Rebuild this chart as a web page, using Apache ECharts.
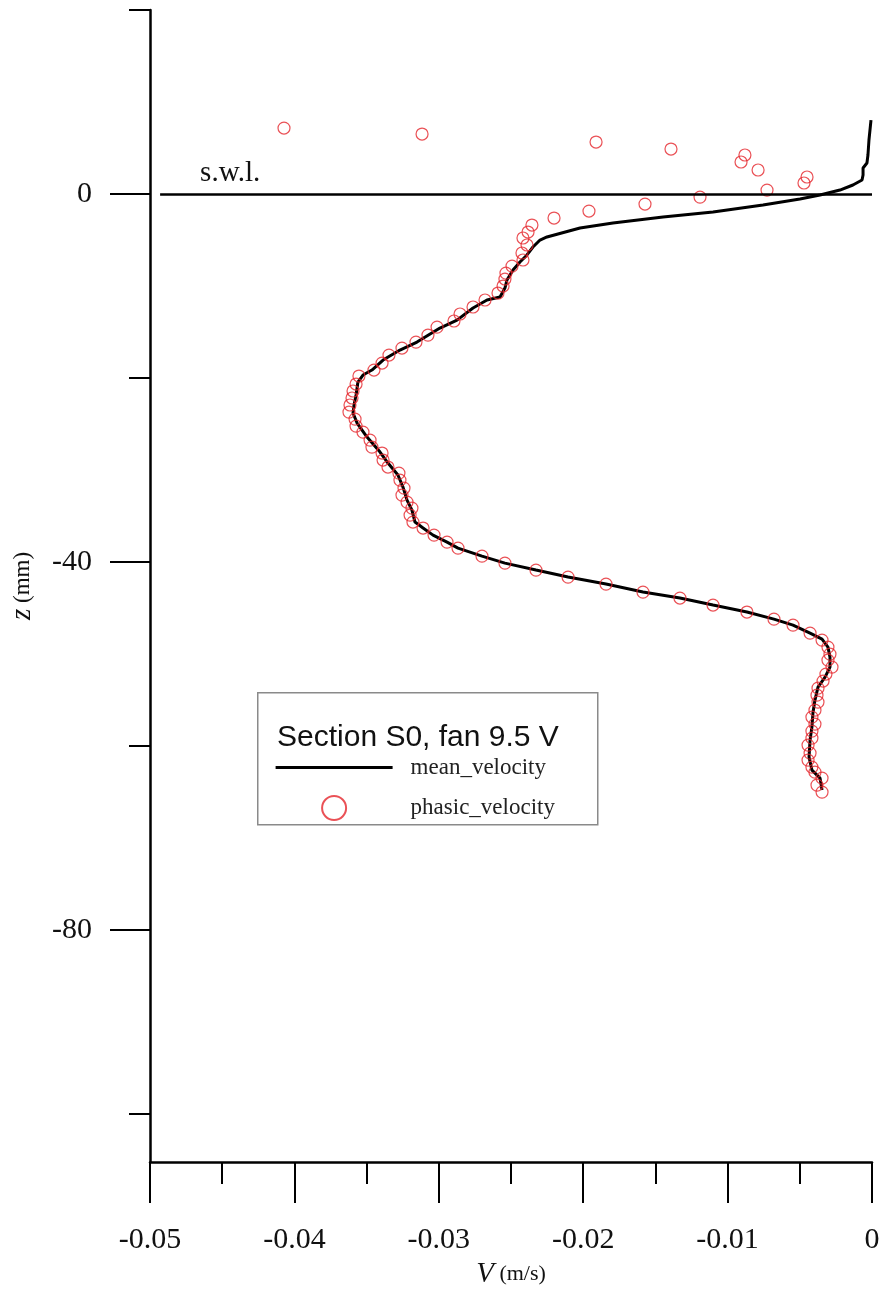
<!DOCTYPE html>
<html><head><meta charset="utf-8">
<script src="https://cdn.jsdelivr.net/npm/echarts@6/dist/echarts.min.js"></script>
<style>html,body{margin:0;padding:0;background:#fff}#c{width:885px;height:1293px}</style>
</head><body><div id="c"></div>
<script>
// mean velocity profile: V (m/s), z (mm)
const meanV = [-0.00007,-0.00021,-0.00028,-0.00035,-0.00062,-0.00062,-0.00069,-0.00132,-0.00222,-0.00360,-0.00499,-0.00755,-0.01101,-0.01447,-0.01794,-0.02022,-0.02251,-0.02299,-0.02348,-0.02396,-0.02438,-0.02486,-0.02528,-0.02542,-0.02576,-0.02666,-0.02763,-0.02874,-0.02992,-0.03151,-0.03269,-0.03386,-0.03463,-0.03525,-0.03560,-0.03573,-0.03587,-0.03594,-0.03566,-0.03497,-0.03407,-0.03352,-0.03283,-0.03248,-0.03220,-0.03186,-0.03165,-0.03109,-0.03040,-0.02943,-0.02867,-0.02701,-0.02542,-0.02327,-0.02105,-0.01842,-0.01586,-0.01330,-0.01101,-0.00866,-0.00679,-0.00547,-0.00429,-0.00346,-0.00305,-0.00291,-0.00291,-0.00325,-0.00374,-0.00395,-0.00409,-0.00416,-0.00429,-0.00436,-0.00416,-0.00360,-0.00346];
const meanZ = [8.04,5.87,4.24,3.37,2.83,2.07,1.52,0.98,0.43,-0.11,-0.54,-1.20,-1.96,-2.50,-3.15,-3.70,-4.67,-5.00,-5.76,-6.74,-7.39,-8.26,-9.35,-10.22,-11.20,-11.52,-12.39,-13.70,-14.57,-16.09,-16.96,-18.04,-19.13,-19.67,-20.43,-21.85,-22.93,-23.80,-24.89,-26.41,-28.04,-29.24,-30.54,-31.85,-33.26,-34.35,-35.65,-36.30,-37.07,-37.83,-38.48,-39.35,-40.11,-40.87,-41.63,-42.39,-43.26,-43.91,-44.67,-45.43,-46.20,-46.85,-47.72,-48.37,-49.24,-50.33,-51.41,-52.50,-53.59,-55.00,-56.41,-57.93,-59.35,-61.20,-62.61,-63.48,-64.78];
// phasic velocity samples
const phasicV = [-0.04072,-0.03116,-0.01911,-0.01392,-0.00880,-0.00907,-0.00789,-0.00450,-0.00471,-0.00727,-0.01191,-0.01572,-0.01960,-0.02202,-0.02355,-0.02382,-0.02417,-0.02389,-0.02424,-0.02417,-0.02493,-0.02535,-0.02542,-0.02555,-0.02590,-0.02680,-0.02763,-0.02853,-0.02895,-0.03012,-0.03075,-0.03158,-0.03255,-0.03345,-0.03393,-0.03449,-0.03553,-0.03573,-0.03594,-0.03601,-0.03615,-0.03622,-0.03580,-0.03573,-0.03525,-0.03476,-0.03463,-0.03393,-0.03386,-0.03352,-0.03276,-0.03269,-0.03241,-0.03255,-0.03220,-0.03186,-0.03199,-0.03179,-0.03109,-0.03033,-0.02943,-0.02867,-0.02701,-0.02542,-0.02327,-0.02105,-0.01842,-0.01586,-0.01330,-0.01101,-0.00866,-0.00679,-0.00547,-0.00429,-0.00346,-0.00305,-0.00291,-0.00305,-0.00277,-0.00319,-0.00339,-0.00374,-0.00381,-0.00374,-0.00395,-0.00416,-0.00395,-0.00416,-0.00416,-0.00443,-0.00429,-0.00443,-0.00416,-0.00395,-0.00346,-0.00381,-0.00346];
const phasicZ = [7.17,6.52,5.65,4.89,4.24,3.48,2.61,1.85,1.20,0.43,-0.33,-1.09,-1.85,-2.61,-3.37,-4.13,-4.78,-5.54,-6.41,-7.17,-7.83,-8.59,-9.24,-10.00,-10.76,-11.52,-12.28,-13.04,-13.80,-14.46,-15.33,-16.09,-16.74,-17.50,-18.37,-19.13,-19.78,-20.65,-21.41,-22.17,-22.93,-23.70,-24.46,-25.22,-25.87,-26.74,-27.50,-28.15,-28.91,-29.67,-30.33,-31.09,-31.96,-32.72,-33.48,-34.13,-34.89,-35.65,-36.30,-37.07,-37.83,-38.48,-39.35,-40.11,-40.87,-41.63,-42.39,-43.26,-43.91,-44.67,-45.43,-46.20,-46.85,-47.72,-48.48,-49.24,-50.00,-50.65,-51.41,-52.17,-52.93,-53.70,-54.46,-55.22,-56.09,-56.85,-57.61,-58.37,-59.13,-59.89,-60.76,-61.52,-62.28,-62.83,-63.48,-64.24,-65.00];
const yMajorTicks = [0, -40, -80];
const yMinorTicks = [20, -20, -60, -100];
const legendTitle = 'Section S0, fan 9.5 V';

const serif = 'Liberation Serif';
const chart = echarts.init(document.getElementById('c'), null, {renderer: 'canvas'});
const meanData = meanV.map((v, i) => [v, meanZ[i]]);
const phasicData = phasicV.map((v, i) => [v, phasicZ[i]]);

chart.setOption({
  backgroundColor: '#ffffff',
  animation: false,
  grid: {left: 150, right: 13, top: 10, bottom: 131, containLabel: false, outerBoundsMode: 'none'},
  xAxis: {
    type: 'value', min: -0.05, max: 0, interval: 0.01,
    axisLine: {onZero: false, lineStyle: {color: '#000', width: 2.5}},
    axisTick: {length: 41, lineStyle: {color: '#000', width: 2}},
    minorTick: {show: true, splitNumber: 2, length: 22, lineStyle: {color: '#000', width: 2}},
    splitLine: {show: false}, minorSplitLine: {show: false},
    axisLabel: {margin: 63, fontFamily: serif, fontSize: 30, color: '#111',
      formatter: v => Math.abs(v) < 1e-9 ? '0' : v.toFixed(2)},
    name: '{i|V}{n| (m/s)}', nameLocation: 'middle', nameGap: 89,
    nameTextStyle: {rich: {i: {fontFamily: serif, fontStyle: 'italic', fontSize: 29, color: '#111'},
                           n: {fontFamily: serif, fontSize: 22, color: '#111'}}}
  },
  yAxis: [{
    type: 'value', min: -105.2, max: 20,
    axisLine: {onZero: false, lineStyle: {color: '#000', width: 2.5}},
    axisTick: {length: 40, customValues: yMajorTicks, lineStyle: {color: '#000', width: 2}},
    splitLine: {show: false},
    axisLabel: {margin: 58, customValues: yMajorTicks, fontFamily: serif, fontSize: 30, color: '#111'},
    name: '{i|z}{n| (mm)}', nameLocation: 'middle', nameGap: 113,
    nameTextStyle: {rich: {i: {fontFamily: serif, fontStyle: 'italic', fontSize: 29, color: '#111'},
                           n: {fontFamily: serif, fontSize: 23, color: '#111'}}}
  }, {
    type: 'value', min: -105.2, max: 20, position: 'left',
    axisLine: {show: false, onZero: false},
    axisTick: {show: true, length: 21, customValues: yMinorTicks, lineStyle: {color: '#000', width: 2}},
    axisLabel: {show: false}, splitLine: {show: false}
  }],
  legend: {
    left: 269, top: 751, orient: 'vertical', z: 20,
    itemWidth: 117, itemHeight: 24, itemGap: 16,
    textStyle: {fontFamily: serif, fontSize: 23, color: '#222', padding: [0, 0, 0, 13]},
    data: [
      {name: 'mean_velocity', itemStyle: {opacity: 0, color: 'rgba(0,0,0,0)', borderWidth: 0},
       lineStyle: {width: 3.2, color: '#000'}},
      'phasic_velocity'
    ]
  },
  graphic: [{
    type: 'rect', left: 257, top: 692, z: 1,
    shape: {width: 340, height: 132},
    style: {fill: '#fff', stroke: '#8a8a8a', lineWidth: 1.5}
  }, {
    type: 'text', left: 277, top: 723, z: 2,
    style: {text: legendTitle, font: '30px "Liberation Sans"', fill: '#111'}
  }],
  series: [{
    name: 'mean_velocity', type: 'line', data: meanData, yAxisIndex: 0,
    symbol: 'none', showSymbol: false, smooth: false,
    lineStyle: {color: '#000', width: 3}, itemStyle: {color: '#000'}, z: 3,
    markLine: {
      silent: true, symbol: ['none', 'none'],
      lineStyle: {color: '#000', width: 2.5, type: 'solid'},
      label: {show: true, position: 'insideStartTop', formatter: 's.w.l.', distance: [40, 6],
              fontFamily: serif, fontSize: 29, color: '#111'},
      data: [[{coord: [-0.0493, 0]}, {coord: [0, 0]}]]
    }
  }, {
    name: 'phasic_velocity', type: 'scatter', data: phasicData, yAxisIndex: 0,
    symbol: 'circle', symbolSize: 12,
    itemStyle: {color: 'rgba(0,0,0,0)', borderColor: '#e5262c', borderWidth: 1.2}, z: 4
  }]
});
</script></body></html>
